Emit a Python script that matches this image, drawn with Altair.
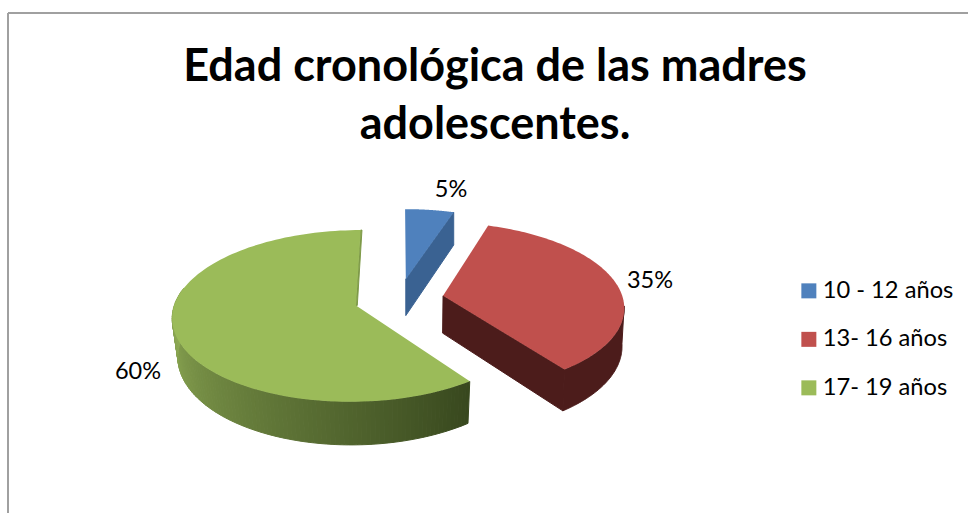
import altair as alt
import numpy as np

# Chart content
title_lines = ["Edad cronológica de las madres", "adolescentes."]
categories = ["10 - 12 años", "13- 16 años", "17- 19 años"]
shares = [5, 35, 60]
top_colors = ["#4F81BD", "#C0504D", "#9BBB59"]
wall_colors = ["#3A6292", "#4C1C1B", None]

# Perspective camera for the tilted pie
CX, CY = 399.0, 299.0
RX, RY = 180.0, 83.0
PERSP = 0.121
EXPLODE = 0.249
DEPTH = 37.5
BOTTOM_NARROW = [1.0, 0.99, 0.975]   # how far each wedge's lower rim tucks in
RIM_FROM = [None, 97, 144]           # angle where each wedge's outer rim comes into view
RIM_TO = [None, 144, 282]


def project(X, Y, narrow=None):
    s = 1.0 / (1.0 + PERSP * Y)
    x = RX * X * s
    y = -RY * Y * s
    if narrow is not None:
        return CX + x * narrow, CY + y + DEPTH * s
    return CX + x, CY + y


def feature(points, **props):
    ring = [[float(x), float(y)] for x, y in points]
    ring.append(ring[0])
    return {
        "type": "Feature",
        "geometry": {"type": "Polygon", "coordinates": [ring]},
        "properties": props,
    }


def mix(a, b, t):
    ca = np.array([int(a[i:i + 2], 16) for i in (1, 3, 5)])
    cb = np.array([int(b[i:i + 2], 16) for i in (1, 3, 5)])
    c = (ca + (cb - ca) * t).round().astype(int)
    return "#%02x%02x%02x" % tuple(c)


edges = np.cumsum([0] + shares) * 3.6
walls, tops = [], []
for i, cat in enumerate(categories):
    t0, t1 = np.radians(edges[i]), np.radians(edges[i + 1])
    mid = (t0 + t1) / 2
    ax, ay = EXPLODE * np.sin(mid), EXPLODE * np.cos(mid)
    th = np.linspace(t0, t1, 120)
    px, py = ax + np.sin(th), ay + np.cos(th)
    nar = BOTTOM_NARROW[i]

    if wall_colors[i]:
        # One-colour rim (where it faces the viewer) and the cut face of the wedge
        if RIM_FROM[i] is not None:
            seen = np.radians(np.linspace(RIM_FROM[i], RIM_TO[i], 60))
            sx, sy = ax + np.sin(seen), ay + np.cos(seen)
            upper = [project(a, b) for a, b in zip(sx, sy)]
            lower = [project(a, b, nar) for a, b in zip(sx, sy)]
            walls.append(feature(upper + lower[::-1], fill=wall_colors[i]))
        walls.append(feature(
            [project(ax, ay), project(px[-1], py[-1]),
             project(px[-1], py[-1], nar), project(ax, ay, nar)],
            fill=wall_colors[i],
        ))
    else:
        # Shaded rim of the large wedge, built from strips along its front side
        seen = np.radians(np.linspace(RIM_FROM[i], RIM_TO[i], 110))
        sx, sy = ax + np.sin(seen), ay + np.cos(seen)
        for j in range(len(seen) - 1):
            f = np.clip((np.degrees(seen[j]) - 144) / 126, 0, 1)
            walls.append(feature(
                [project(sx[j], sy[j]), project(sx[j + 1], sy[j + 1]),
                 project(sx[j + 1], sy[j + 1], nar), project(sx[j], sy[j], nar)],
                fill=mix("#38481E", "#8FAB55", f),
            ))
        # Hairline of the far cut face showing past the top surface
        hx0, hy0 = project(ax, ay)
        hx1, hy1 = project(px[-1], py[-1])
        walls.append(feature(
            [(hx0, hy0), (hx1, hy1), (hx1 + 1.3, hy1), (hx0 + 1.3, hy0)],
            fill="#7E9A48",
        ))

    outline = [project(ax, ay)] + [project(a, b) for a, b in zip(px, py)]
    tops.append(feature(outline, category=cat))

projection = alt.Projection(type="identity", scale=1, translate=[0, 0])

rims = (
    alt.Chart(alt.Data(values=walls))
    .mark_geoshape(strokeWidth=1)
    .encode(
        fill=alt.Fill("properties.fill:N", scale=None),
        stroke=alt.Stroke("properties.fill:N", scale=None),
    )
    .project(**projection.to_dict())
)
surfaces = (
    alt.Chart(alt.Data(values=tops))
    .mark_geoshape(strokeWidth=0)
    .encode(
        color=alt.Color(
            "properties.category:N",
            scale=alt.Scale(domain=categories, range=top_colors),
            legend=alt.Legend(
                title=None,
                orient="none",
                legendX=797,
                legendY=279,
                symbolType="square",
                symbolSize=225,
                symbolStrokeWidth=0,
                labelFont="Lato",
                labelFontSize=23.7,
                labelColor="#000000",
                labelOffset=2,
                rowPadding=23.5,
            ),
        )
    )
    .project(**projection.to_dict())
)

# Percentage labels beside each wedge
label_anchor = {0: (451, 190), 1: (650, 281), 2: (138, 372)}
label_rows = [
    {"text": f"{shares[i]}%", "x": label_anchor[i][0], "y": label_anchor[i][1]}
    for i in range(len(shares))
]
labels = (
    alt.Chart(alt.Data(values=label_rows))
    .mark_text(font="Lato", fontSize=23.5, color="#000000", align="center", baseline="middle")
    .encode(
        text="text:N",
        x=alt.X("x:Q", scale=None),
        y=alt.Y("y:Q", scale=None),
    )
)

# Frame around the chart: only the top and left edges show
frame_color = "#A0A0A0"
frame_top = alt.Chart(alt.Data(values=[{"k": 0}])).mark_rule(color=frame_color, strokeWidth=2).encode(
    x=alt.value(8), x2=alt.value(968), y=alt.value(13)
)
frame_left = alt.Chart(alt.Data(values=[{"k": 0}])).mark_rule(color=frame_color, strokeWidth=2).encode(
    x=alt.value(8), y=alt.value(13), y2=alt.value(513)
)

chart = (
    alt.layer(frame_top, frame_left, rims, surfaces, labels)
    .resolve_scale(color="independent", fill="independent", stroke="independent")
    .properties(
        width=968,
        height=513,
        padding=0,
        autosize=alt.AutoSizeParams(type="none"),
        background="#FFFFFF",
        title=alt.TitleParams(
            text=title_lines,
            font="Lato",
            fontSize=45,
            fontWeight="bold",
            color="#000000",
            anchor="middle",
            frame="group",
            baseline="top",
            dx=11,
            lineHeight=58,
            offset=-148,
        ),
    )
    .configure_view(stroke=None)
)

chart.save("out.html", embed_options={"renderer": "svg", "actions": False})
